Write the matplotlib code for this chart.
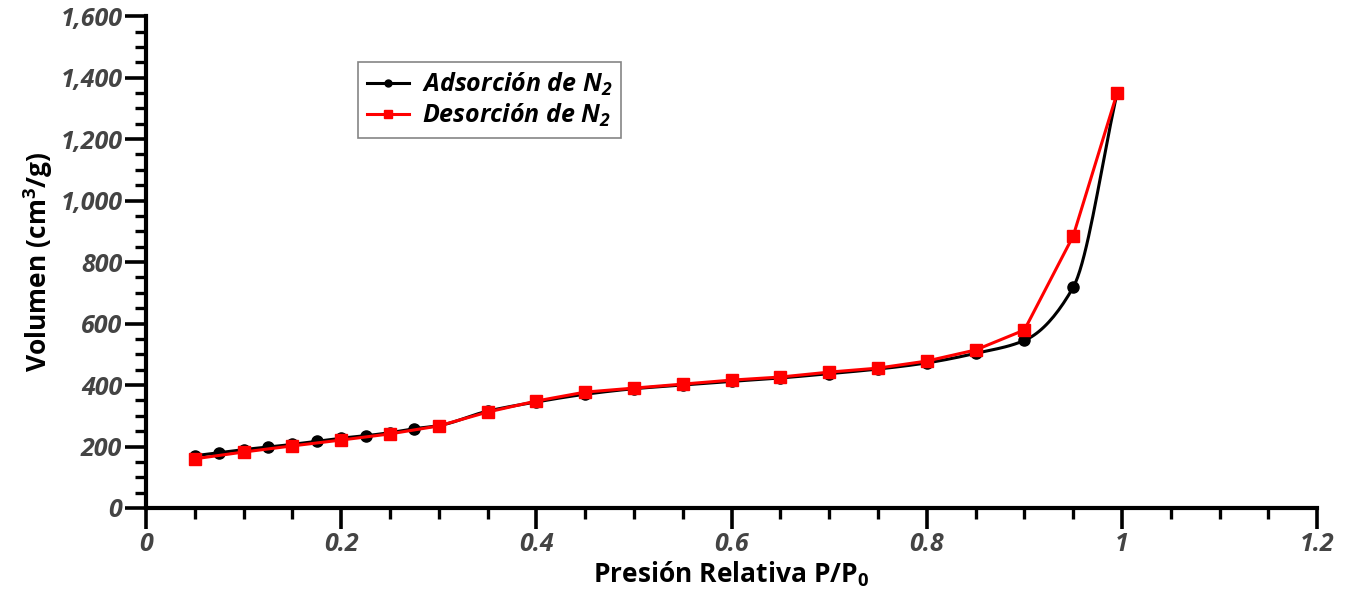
import numpy as np
import matplotlib.pyplot as plt
from matplotlib.ticker import MultipleLocator, FuncFormatter

# ______________________ DATA ______________________________
p_ads = [0.05, 0.075, 0.1, 0.125, 0.15, 0.175, 0.2, 0.225, 0.25, 0.275, 0.3,
         0.35, 0.4, 0.45, 0.5, 0.55, 0.6, 0.65, 0.7, 0.75, 0.8, 0.85, 0.9,
         0.95, 0.995]
v_ads = [170, 180, 190, 198, 207, 217, 227, 235, 245, 258, 268,
         315, 345, 370, 388, 400, 412, 423, 437, 452, 472, 503, 545,
         718, 1350]

p_des = [0.05, 0.1, 0.15, 0.2, 0.25, 0.3, 0.35, 0.4, 0.45, 0.5, 0.55, 0.6,
         0.65, 0.7, 0.75, 0.8, 0.85, 0.9, 0.95, 0.995]
v_des = [160, 182, 202, 221, 241, 267, 312, 348, 377, 390, 403, 416,
         426, 442, 455, 478, 514, 579, 885, 1350]


def smooth_line(x, y, n=20):
    # monotone cubic (Fritsch-Carlson), only used to draw a smooth connecting line
    x = np.asarray(x, float)
    y = np.asarray(y, float)
    h = np.diff(x)
    d = np.diff(y) / h
    m = np.zeros_like(y)
    m[0], m[-1] = d[0], d[-1]
    for i in range(1, len(x) - 1):
        if d[i - 1] * d[i] > 0:
            w1 = 2 * h[i] + h[i - 1]
            w2 = h[i] + 2 * h[i - 1]
            m[i] = (w1 + w2) / (w1 / d[i - 1] + w2 / d[i])
    xs, ys = [], []
    for i in range(len(x) - 1):
        t = np.linspace(0, 1, n, endpoint=False)
        h00 = 2 * t**3 - 3 * t**2 + 1
        h10 = t**3 - 2 * t**2 + t
        h01 = -2 * t**3 + 3 * t**2
        h11 = t**3 - t**2
        xs.append(x[i] + t * h[i])
        ys.append(h00 * y[i] + h10 * h[i] * m[i] + h01 * y[i + 1] + h11 * h[i] * m[i + 1])
    xs.append([x[-1]])
    ys.append([y[-1]])
    return np.concatenate(xs), np.concatenate(ys)


# ______________________ PLOT ______________________________
fnt = ['Open Sans', 'DejaVu Sans']
plt.rcParams['font.family'] = fnt

fig = plt.figure(figsize=(13.51, 5.94), dpi=100)
ax = fig.add_axes([0.108, 0.1448, 0.867, 0.828])

xs, ys = smooth_line(p_ads, v_ads)
ax.plot(xs, ys, color='black', lw=2.2, zorder=2)
ax.plot(p_ads, v_ads, 'o', color='black', ms=8, zorder=3)
ax.plot(p_des, v_des, '-s', color='#ff0000', lw=2.2, ms=9, zorder=4)

# legend proxies
ax.plot([], [], '-o', color='black', lw=2.2, ms=5, label=r'Adsorción de N$_\mathregular{2}$')
ax.plot([], [], '-s', color='#ff0000', lw=2.2, ms=6, label=r'Desorción de N$_\mathregular{2}$')
leg = ax.legend(loc='upper left', bbox_to_anchor=(0.181, 0.907), borderaxespad=0,
                fancybox=False, edgecolor='#666666', handlelength=1.7, handletextpad=0.5,
                borderpad=0.35, labelspacing=0.15,
                prop=dict(family=fnt, weight='bold', style='italic', size=18))
leg.get_frame().set_linewidth(1.2)

ax.set_xlim(0, 1.2)
ax.set_ylim(0, 1600)
ax.xaxis.set_major_locator(MultipleLocator(0.2))
ax.xaxis.set_minor_locator(MultipleLocator(0.05))
ax.yaxis.set_major_locator(MultipleLocator(200))
ax.yaxis.set_minor_locator(MultipleLocator(50))
ax.xaxis.set_major_formatter(FuncFormatter(lambda v, p: '%g' % round(v, 2)))
ax.yaxis.set_major_formatter(FuncFormatter(lambda v, p: '{:,.0f}'.format(v)))

for s in ['top', 'right']:
    ax.spines[s].set_visible(False)
for s in ['left', 'bottom']:
    ax.spines[s].set_linewidth(3)

ax.tick_params(which='major', direction='out', length=15, width=2.6, pad=2,
               labelsize=18, labelcolor='#444444')
ax.tick_params(which='minor', direction='out', length=8, width=2.4)
for lab in ax.get_xticklabels() + ax.get_yticklabels():
    lab.set_fontweight('bold')
    lab.set_fontstyle('italic')

ax.set_xlabel(r'Presión Relativa P/P$_\mathregular{0}$', fontsize=19, fontweight='bold', labelpad=2)
ax.set_ylabel(r'Volumen (cm$^\mathregular{3}$/g)', fontsize=19, fontweight='bold', labelpad=4)

plt.savefig('out.png', dpi=100)
